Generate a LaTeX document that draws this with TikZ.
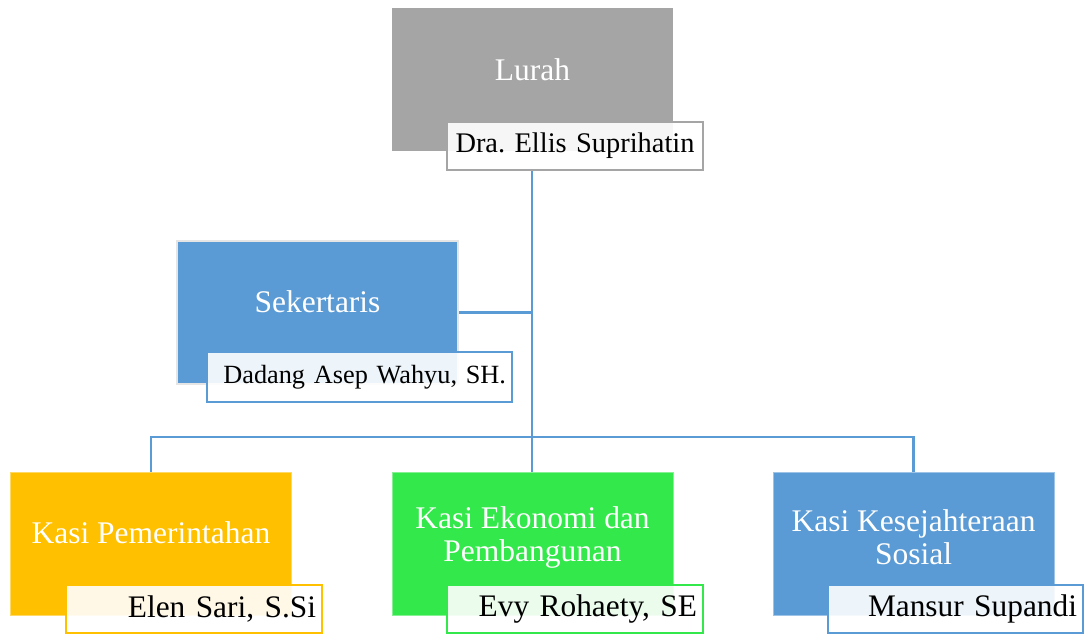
\documentclass[tikz,border=0pt]{standalone}
\usepackage{fontspec}
\setmainfont{Liberation Serif}
\usetikzlibrary{positioning, backgrounds}
\definecolor{lurahgray}{HTML}{A5A5A5}
\definecolor{orgblue}{HTML}{5B9BD5}
\definecolor{orgorange}{HTML}{FFC000}
\definecolor{orggreen}{RGB}{51,232,74}

\begin{document}
\begin{tikzpicture}[
  head/.style={rectangle, inner sep=0pt, minimum width=7.025cm, minimum height=3.575cm},
  headtext/.style={text=white, align=center, font=\fontsize{22.4}{23.4}\selectfont},
  namebox/.style={draw=#1, line width=1.4pt, fill=white, fill opacity=0.9, text opacity=1,
    inner xsep=0.15cm, inner ysep=0pt, minimum height=1.2cm, text width=6.1cm, align=right,
    font=\fontsize{22.3}{24}\selectfont},
  link/.style={draw=orgblue, line width=1.6pt}
]
 \useasboundingbox (0,0) rectangle (27.1,15.85);
 % top
 \node[head, fill=lurahgray] (lurah) at (13.3125,13.85) {};
 \node[headtext] (lurahtxt) at ([yshift=0.25cm]lurah.center) {Lurah};
 \node[namebox=lurahgray, align=center, font=\fontsize{20.2}{22}\selectfont] (dra) at (14.375,12.2) {Dra.~Ellis~Suprihatin};
 % secretary
 \node[head, fill=orgblue, draw=black!10, line width=1.2pt] (sek) at (7.9375,8.0375) {};
 \node[headtext] (sektxt) at ([yshift=0.26cm]sek.center) {Sekertaris};
 \node[namebox=orgblue, minimum height=1.25cm, text width=7.325cm, font=\fontsize{18.7}{20}\selectfont] (dadang) at (8.9875,6.425) {Dadang Asep Wahyu, SH.};
 % sections
 \node[head, fill=orgorange, draw=orgorange!60!white, line width=0.6pt] (kp) at (3.775,2.2625) {};
 \node[headtext] (kptxt) at ([yshift=0.26cm]kp.center) {Kasi Pemerintahan};
 \node[namebox=orgorange] (elen) at (4.85,0.625) {Elen Sari, S.Si};
 \node[head, fill=orggreen, draw=orggreen!60!white, line width=0.6pt] (ke) at (13.3125,2.2625) {};
 \node[headtext] (ketxt) at ([yshift=0.16cm]ke.center) {Kasi Ekonomi dan\\Pembangunan};
 \node[namebox=orggreen] (evy) at (14.375,0.625) {Evy Rohaety, SE};
 \node[head, fill=orgblue, draw=orgblue!60!white, line width=0.6pt] (kk) at (22.8375,2.2625) {};
 \node[headtext] (kktxt) at ([yshift=0.16cm]kk.center) {Kasi Kesejahteraan\\Sosial};
 \node[namebox=orgblue, text width=6.075cm] (mansur) at (23.8875,0.625) {Mansur Supandi};
 % connectors
 \coordinate (hub) at (13.3,4.925);
 \begin{scope}[on background layer]
  \draw[link] (dra.south -| hub) -- (hub);
  \draw[link] (sek.east) -- (sek.east -| hub);
  \draw[link] (kp.north) |- (hub) -| (kk.north);
  \draw[link] (hub) -- (ke.north -| hub);
 \end{scope}
\end{tikzpicture}
\end{document}
